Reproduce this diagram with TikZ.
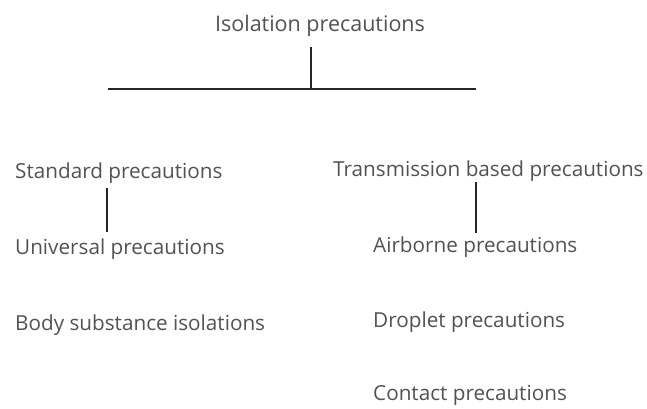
\documentclass[tikz,border=0pt]{standalone}
\usepackage{fontspec}
\setmainfont{Open Sans}
\begin{document}
\begin{tikzpicture}[x=1pt,y=1pt,
  lbl/.style={inner sep=0pt, anchor=base west, text=black!68, font=\fontsize{20.7}{23}\selectfont},
  conn/.style={draw=black!85, line width=1.1pt}]
\useasboundingbox (0,0) rectangle (647,409);
% title
\node[lbl, anchor=base, font=\fontsize{21.5}{24}\selectfont] (title) at (320,377) {Isolation precautions};
% left column
\node[lbl] (std) at (15,230) {Standard precautions};
\node[lbl] (uni) at (15,154) {Universal precautions};
\node[lbl] (body) at (15,78) {Body substance isolations};
% right column
\node[lbl] (trans) at (333,232) {Transmission based precautions};
\node[lbl] (air) at (373,156) {Airborne precautions};
\node[lbl] (drop) at (373,81) {Droplet precautions};
\node[lbl] (cont) at (373,9) {Contact precautions};
% connectors
\coordinate (tb) at (311,362);
\coordinate (hm) at (311,320);
\coordinate (hl) at (108,320);
\coordinate (hr) at (476,320);
\draw[conn] (tb) -- (hm);
\draw[conn] (hl) -- (hr);
\coordinate (s1) at (107,221);
\coordinate (s2) at (107,177);
\draw[conn] (s1) -- (s2);
\coordinate (t1) at (476,227);
\coordinate (t2) at (476,176);
\draw[conn] (t1) -- (t2);
\end{tikzpicture}
\end{document}
